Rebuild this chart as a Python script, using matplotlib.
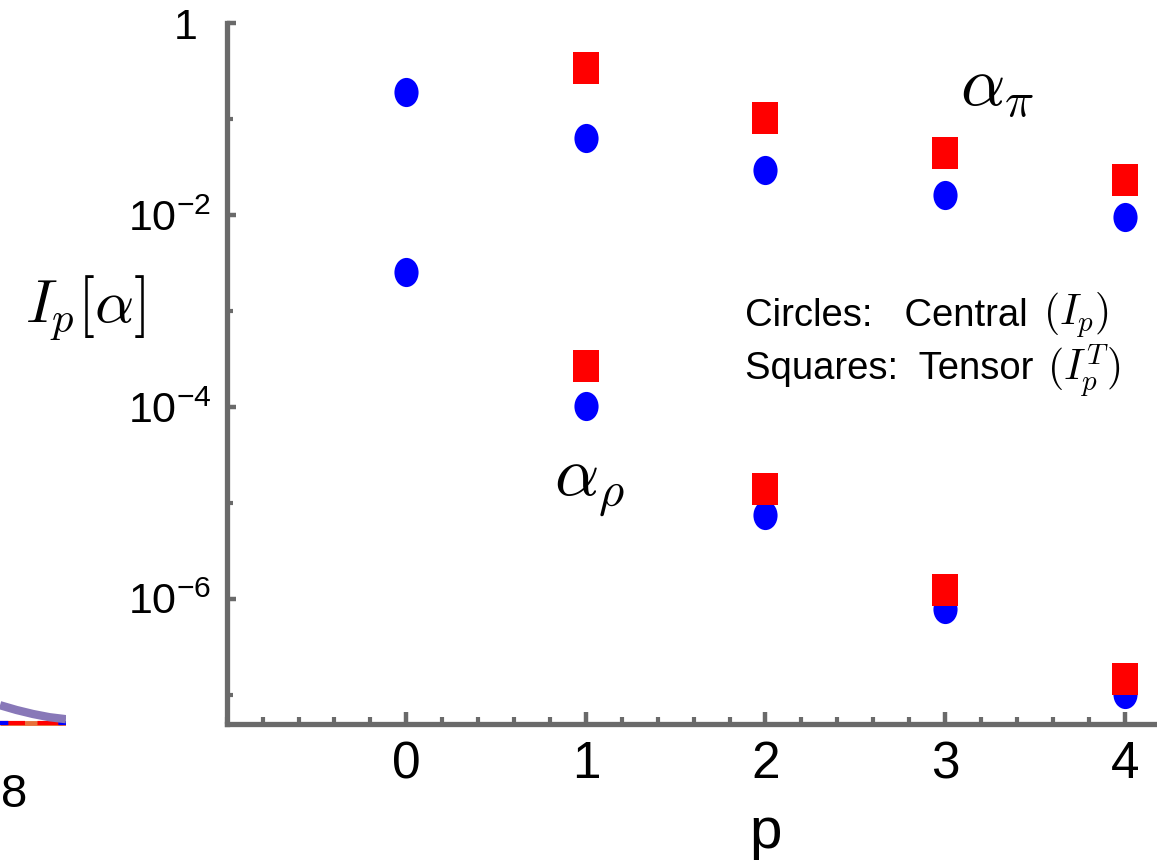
import numpy as np
import matplotlib
matplotlib.use("Agg")
import matplotlib.pyplot as plt
from matplotlib.path import Path
from matplotlib.transforms import Affine2D, ScaledTranslation
from matplotlib.ticker import FixedLocator, MultipleLocator, NullFormatter

plt.rcParams['font.family'] = ['Liberation Sans', 'DejaVu Sans']
plt.rcParams['mathtext.fontset'] = 'cm'

# moments I_p[alpha] for p = 0..4
p_vals = [0, 1, 2, 3, 4]
pi_central = [0.192, 0.0634, 0.0294, 0.0160, 0.00953]
pi_tensor_p = [1, 2, 3, 4]
pi_tensor = [0.341, 0.103, 0.0446, 0.0232]
rho_central = [2.57e-3, 1.01e-4, 7.45e-6, 7.76e-7, 1.01e-7]
rho_tensor_p = [1, 2, 3, 4]
rho_tensor = [2.69e-4, 1.38e-5, 1.22e-6, 1.47e-7]

y_major = [1, 1e-2, 1e-4, 1e-6]
y_major_labels = ['1', r'$\mathregular{10^{-2}}$', r'$\mathregular{10^{-4}}$',
                  r'$\mathregular{10^{-6}}$']
y_minor = [1e-1, 1e-3, 1e-5, 1e-7]

# bit of the neighbouring panel that sticks in from the left
frag_x = [0.0, 0.25, 0.5, 0.75, 1.0]
frag_curve = [0.62, 0.50, 0.40, 0.32, 0.27]
frag_base = [0.175, 0.175, 0.175, 0.175, 0.175]

axis_grey = '#6a6a6a'

# tall markers: ellipse and upright rectangle
ellipse = Affine2D().scale(24 / 29, 1.0).transform_path(Path.unit_circle())
rect = Affine2D().translate(-0.5, -0.5).scale(27 / 32, 1.0).transform_path(Path.unit_rectangle())

W, H = 1157, 865
fig = plt.figure(figsize=(W / 100, H / 100), dpi=100)
ax = fig.add_axes([226.7 / W, 1 - 723.5 / H, 1 - 226.7 / W, (723.5 - 23) / H])

ax.plot(p_vals, pi_central, linestyle='none', marker=ellipse, markersize=21,
        color='#0000ff', markeredgewidth=0, zorder=3)
ax.plot(p_vals, rho_central, linestyle='none', marker=ellipse, markersize=21,
        color='#0000ff', markeredgewidth=0, zorder=3)
ax.plot(pi_tensor_p, pi_tensor, linestyle='none', marker=rect, markersize=23,
        color='#ff0000', markeredgewidth=0, zorder=4)
ax.plot(rho_tensor_p, rho_tensor, linestyle='none', marker=rect, markersize=23,
        color='#ff0000', markeredgewidth=0, zorder=4)

ax.set_yscale('log')
ax.set_xlim(-1.0, 4.18)
ax.set_ylim(10 ** -7.3, 1.0)

for side in ('top', 'right'):
    ax.spines[side].set_visible(False)
for side in ('left', 'bottom'):
    ax.spines[side].set_color(axis_grey)
    ax.spines[side].set_linewidth(3.8)

ax.set_xticks(p_vals)
ax.xaxis.set_minor_locator(MultipleLocator(0.2))
ax.yaxis.set_major_locator(FixedLocator(y_major))
ax.set_yticklabels(y_major_labels)
ax.yaxis.set_minor_locator(FixedLocator(y_minor))
ax.yaxis.set_minor_formatter(NullFormatter())

ax.tick_params(axis='x', which='major', direction='in', length=9, width=3.2,
               color=axis_grey, labelsize=37, pad=12)
ax.tick_params(axis='x', which='minor', direction='in', length=5.4, width=3.0,
               color=axis_grey)
ax.tick_params(axis='y', which='major', direction='in', length=6.8, width=3.2,
               color=axis_grey, labelsize=31, pad=11)
ax.tick_params(axis='y', which='minor', direction='in', length=4.0, width=3.0,
               color=axis_grey)

# the plain "1" sits a little further left than the powers of ten
fig.canvas.draw()
one = ax.get_yticklabels()[0]
one.set_transform(one.get_transform() + ScaledTranslation(-0.14, 0, fig.dpi_scale_trans))

ax.set_xlabel('p', fontsize=42, labelpad=12, x=3 / 5.18)

fig.text(85 / W, 1 - 308 / H, r'$I_p[\alpha]$', fontsize=44, ha='center', va='center')

ax.text(3.29, 0.205, r'$\alpha_\pi$', fontsize=50, ha='center', va='center')
ax.text(1.02, 1.47e-5, r'$\alpha_\rho$', fontsize=50, ha='center', va='center')

# marker key
ax.text(1.886, 8.9e-4, 'Circles:   Central', fontsize=27.5, ha='left', va='center')
ax.text(3.545, 8.9e-4, r'$(I_p)$', fontsize=30, ha='left', va='center')
ax.text(1.886, 2.5e-4, 'Squares:  Tensor', fontsize=27.5, ha='left', va='center')
ax.text(3.565, 2.4e-4, r'$(I_p^T)$', fontsize=30, ha='left', va='center')

# neighbouring panel fragment
fx = fig.add_axes([0, 1 - 730 / H, 66 / W, 40 / H])
fx.set_xlim(0, 1)
fx.set_ylim(0, 1)
fx.axis('off')
fx.plot(frag_x, frag_base, color='#e8703a', linewidth=3.5, solid_capstyle='butt')
fx.plot(frag_x, frag_base, color='#ff0000', linewidth=3.0, dashes=(6, 3))
fx.plot(frag_x, frag_base, color='#0000ff', linewidth=3.0, dashes=(2, 12))
fx.plot(frag_x, frag_curve, color='#8878b8', linewidth=6, solid_capstyle='butt')
fig.text(1 / W, 1 - 795 / H, '8', fontsize=34, ha='left', va='center')

fig.savefig('out.png', dpi=100)
